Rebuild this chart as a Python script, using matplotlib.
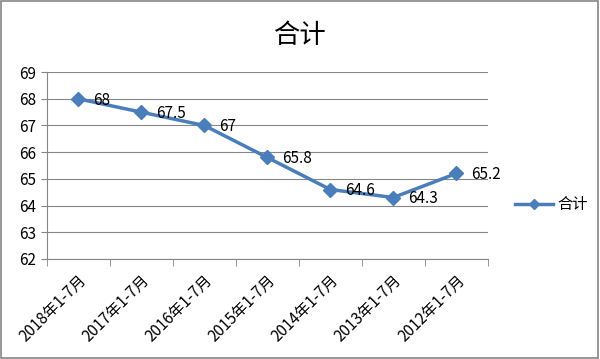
import matplotlib.pyplot as plt
import numpy as np

plt.rcParams['font.family'] = ['Noto Sans CJK SC', 'DejaVu Sans']

# data
categories = ["2018年1-7月", "2017年1-7月", "2016年1-7月", "2015年1-7月",
              "2014年1-7月", "2013年1-7月", "2012年1-7月"]
values = [68, 67.5, 67, 65.8, 64.6, 64.3, 65.2]
labels = ["68", "67.5", "67", "65.8", "64.6", "64.3", "65.2"]

fig = plt.figure(figsize=(6, 3.59), dpi=100)
ax = fig.add_axes([0.078, 0.279, 0.735, 0.52])

x = np.arange(len(categories))
color = "#4A7EBB"
ax.plot(x, values, color=color, lw=2.5, marker="D", markersize=7, label="合计")
for xi, v, t in zip(x, values, labels):
    ax.annotate(t, (xi, v), xytext=(11, -1), textcoords="offset points",
                va="center", ha="left", fontsize=11)

ax.set_xlim(-0.5, len(categories) - 0.5)
ax.set_ylim(62, 69)
ax.set_yticks(range(62, 70))
ax.grid(axis="y", color="#868686", lw=0.8)
ax.set_axisbelow(True)

ax.set_xticks(x)
ax.set_xticklabels(categories, rotation=45, ha="right", rotation_mode="anchor", fontsize=11)
ax.tick_params(axis="x", length=0, pad=9)
ax.set_xticks(np.arange(-0.5, len(categories)), minor=True)
ax.tick_params(axis="x", which="minor", length=5, color="#868686")
ax.tick_params(axis="y", length=4, color="#868686", labelsize=11)

for s in ["top", "right"]:
    ax.spines[s].set_visible(False)
ax.spines["left"].set_color("#868686")
ax.spines["bottom"].set_color("#868686")

fig.suptitle("合计", y=0.94, fontsize=19)
fig.legend(loc="center left", bbox_to_anchor=(0.835, 0.43), frameon=False, fontsize=11,
           handlelength=2.5, handletextpad=0.3, markerscale=0.7)

fig.patches.append(plt.Rectangle((0.002, 0.003), 0.995, 0.994, transform=fig.transFigure,
                                 fill=False, edgecolor="#868686", lw=1.2))

fig.savefig("out.png", dpi=100)
